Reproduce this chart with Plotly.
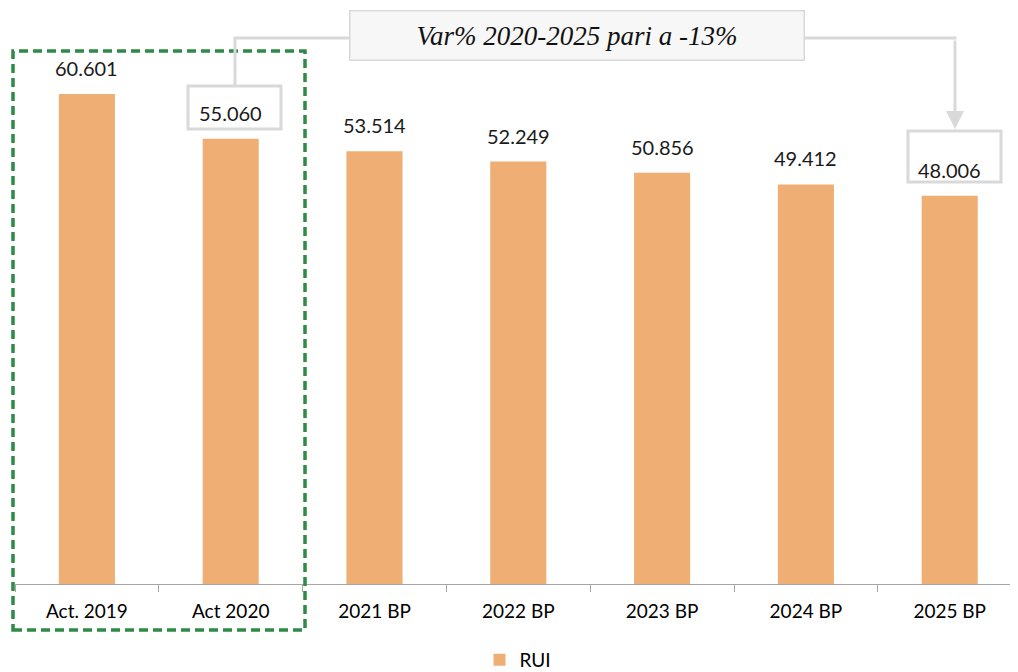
import plotly.graph_objects as go

categories = ["Act. 2019", "Act 2020", "2021 BP", "2022 BP", "2023 BP", "2024 BP", "2025 BP"]
rui_values = [60601, 55060, 53514, 52249, 50856, 49412, 48006]
series_name = "RUI"
callout_text = "Var% 2020-2025 pari a -13%"

OFF = 8  # page body margin
W, H = 1018 - OFF, 672 - OFF
L, T, R, B = 15 - OFF, 0, 0, 88
PW, PH = W - L - R, H - T - B
CAT_PX = 143.8  # pixel width of one category in the reference

def px(x):
    # page pixel x -> paper coordinate
    return (x - OFF - L) / PW

def py(y):
    # page pixel y -> paper coordinate
    return (T + PH - (y - OFF)) / PH

def fmt(v):
    return f"{v:,}".replace(",", ".")

bar_color = "#EFAE73"
grey = "#D9D9D9"

fig = go.Figure()
fig.add_trace(go.Bar(
    x=categories, y=rui_values, name=series_name,
    marker=dict(color=bar_color, line=dict(width=0)),
    width=0.39, showlegend=True,
))

annotations = []
for c, v in zip(categories, rui_values):
    annotations.append(dict(
        x=c, y=v, xref="x", yref="y", text=fmt(v), showarrow=False,
        yanchor="bottom", yshift=12,
        font=dict(family="Lato, sans-serif", size=20, color="#1a1a1a"),
    ))

# callout box
annotations.append(dict(
    x=px(576.5), y=py(35), xref="paper", yref="paper",
    text="<i>" + callout_text + "</i>", showarrow=False,
    xanchor="center", yanchor="middle",
    width=451, height=46, bgcolor="#F7F7F7", bordercolor=grey, borderwidth=1.5,
    font=dict(family="Liberation Serif, Times New Roman, serif", size=27, color="#111111"),
))
# arrow down to 2025 box
annotations.append(dict(
    x=px(955), y=py(129), xref="paper", yref="paper",
    ax=0, ay=-90, axref="pixel", ayref="pixel",
    text="", showarrow=True, arrowhead=2, arrowsize=1.2, arrowwidth=3, arrowcolor=grey,
))

shapes = [
    # green dashed frame
    dict(type="rect", xref="paper", yref="paper", x0=px(13), x1=px(305), y0=py(630), y1=py(51),
         line=dict(color="#2F8A46", width=3.5, dash="9px,5px"), layer="above"),
    # box around 2020 label
    dict(type="rect", xref="paper", yref="paper", x0=px(188), x1=px(281), y0=py(129), y1=py(86),
         line=dict(color=grey, width=3), layer="above"),
    # box around 2025 label
    dict(type="rect", xref="paper", yref="paper", x0=px(908), x1=px(1001), y0=py(182), y1=py(131),
         line=dict(color=grey, width=3), layer="above"),
    # connector left
    dict(type="path", xref="paper", yref="paper",
         path=f"M {px(349)} {py(38)} L {px(235)} {py(38)} L {px(235)} {py(86)}",
         line=dict(color=grey, width=3), layer="above"),
    # connector right
    dict(type="line", xref="paper", yref="paper", x0=px(804), x1=px(956.5), y0=py(38), y1=py(38),
         line=dict(color=grey, width=3), layer="above"),
]

fig.update_layout(
    width=W, height=H,
    margin=dict(l=L, r=R, t=T, b=B, pad=0, autoexpand=False),
    plot_bgcolor="white", paper_bgcolor="white",
    bargap=0.61,
    xaxis=dict(
        type="category", range=[-0.5, -0.5 + PW / CAT_PX],
        showline=True, linecolor="#A6A6A6", linewidth=1.2,
        ticks="outside", tickson="boundaries", ticklen=7, tickcolor="#A6A6A6",
        ticklabelstandoff=10, automargin=False,
        tickfont=dict(family="Lato, sans-serif", size=19, color="#000000"),
        showgrid=False, zeroline=False, fixedrange=True,
    ),
    yaxis=dict(
        range=[0, 60601 * PH / 490], visible=False, showgrid=False, zeroline=False,
        automargin=False,
    ),
    legend=dict(
        orientation="h", x=px(518), xanchor="center", y=py(660), yanchor="middle",
        font=dict(family="Lato, sans-serif", size=19, color="#000000"),
        itemwidth=30,
    ),
    annotations=annotations,
    shapes=shapes,
)

fig.write_html("out.html")
